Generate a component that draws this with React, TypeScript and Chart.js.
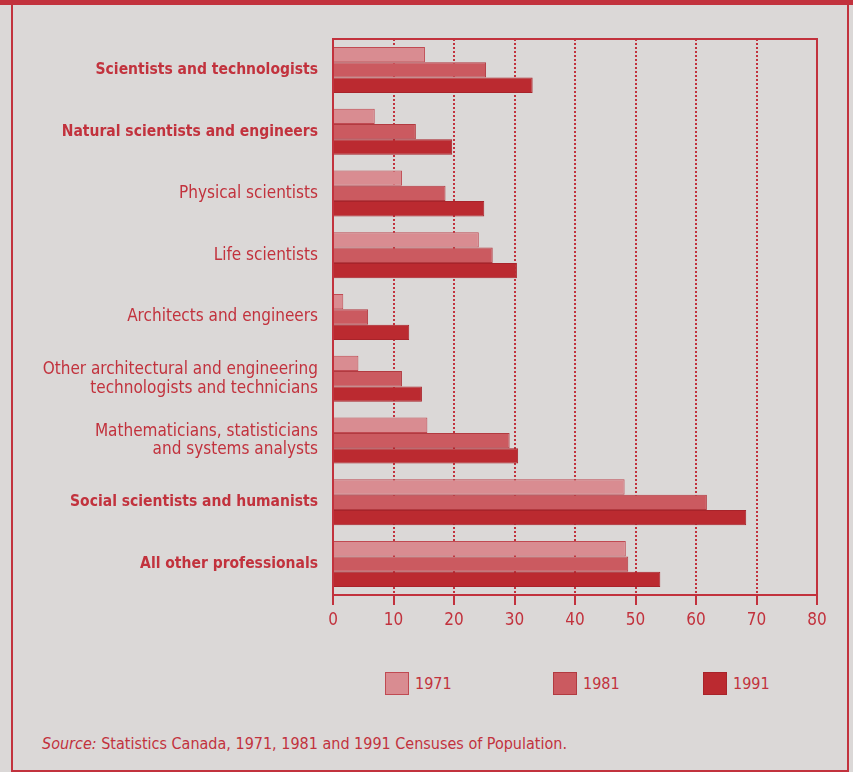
import React, { useEffect, useRef } from "react";
import { Chart, registerables } from "chart.js";

Chart.register(...registerables);

const categories: (string | string[])[] = [
  "Scientists and technologists",
  "Natural scientists and engineers",
  "Physical scientists",
  "Life scientists",
  "Architects and engineers",
  ["Other architectural and engineering", "technologists and technicians"],
  ["Mathematicians, statisticians", "and systems analysts"],
  "Social scientists and humanists",
  "All other professionals",
];

const headingCategories = [
  "Scientists and technologists",
  "Natural scientists and engineers",
  "Social scientists and humanists",
  "All other professionals",
];

const seriesNames = ["1971", "1981", "1991"];
const values1971 = [15.2, 6.9, 11.4, 24.1, 1.7, 4.2, 15.6, 48.2, 48.4];
const values1981 = [25.3, 13.7, 18.6, 26.4, 5.8, 11.4, 29.2, 61.8, 48.8];
const values1991 = [33.0, 19.7, 25.0, 30.4, 12.6, 14.7, 30.6, 68.3, 54.1];

const xTicks = [0, 10, 20, 30, 40, 50, 60, 70, 80];

const sourceLabel = "Source:";
const sourceText = " Statistics Canada, 1971, 1981 and 1991 Censuses of Population.";

const FONT =
  "'Liberation Sans Narrow', 'DejaVu Sans Condensed', 'Roboto Condensed', 'Arial Narrow', sans-serif";
const RED = "#c2323d";
const BG = "#dbd8d7";
const FILLS = ["#d98c91", "#cb5a60", "#bb2a30"];
const EDGES = ["#c04a52", "#b23a40", "#a8232a"];
const LEGEND_LEFT = [385, 553, 703];

const CANVAS_W = 853;
const CANVAS_H = 650;

const framePlugin = {
  id: "frameLines",
  afterDatasetsDraw(chart: any) {
    const { ctx, chartArea } = chart;
    ctx.save();
    ctx.strokeStyle = RED;
    ctx.lineWidth = 2;
    ctx.setLineDash([]);
    ctx.beginPath();
    ctx.moveTo(chartArea.left, chartArea.top);
    ctx.lineTo(chartArea.right, chartArea.top);
    ctx.lineTo(chartArea.right, chartArea.bottom);
    ctx.stroke();
    ctx.restore();
  },
};

function labelText(c: string | string[]) {
  return Array.isArray(c) ? c.join(" ") : c;
}

export default function App() {
  const ref = useRef<HTMLCanvasElement | null>(null);

  useEffect(() => {
    if (!ref.current) return;
    const series = [values1971, values1981, values1991];
    const chart = new Chart(ref.current, {
      type: "bar",
      data: {
        labels: categories,
        datasets: series.map((vals, i) => ({
          label: seriesNames[i],
          data: vals,
          backgroundColor: FILLS[i],
          borderColor: EDGES[i],
          borderWidth: 1,
          categoryPercentage: 0.745,
          barPercentage: 1.0,
        })),
      },
      options: {
        indexAxis: "y",
        animation: false,
        responsive: false,
        maintainAspectRatio: false,
        layout: { padding: { left: 0, right: CANVAS_W - 817, top: 39, bottom: 0 } },
        plugins: {
          legend: { display: false },
          tooltip: { enabled: false },
        },
        scales: {
          x: {
            type: "linear",
            min: 0,
            max: 80,
            afterBuildTicks: (scale: any) => {
              scale.ticks = xTicks.map((v) => ({ value: v }));
            },
            afterFit: (scale: any) => {
              scale.height = CANVAS_H - 595;
            },
            ticks: {
              color: RED,
              font: { family: FONT, size: 17 },
              padding: 5,
              maxRotation: 0,
            },
            grid: {
              color: RED,
              lineWidth: 2,
              drawTicks: true,
              tickLength: 10,
              tickWidth: 2,
              tickColor: RED,
              tickBorderDash: [],
            },
            border: { display: true, color: RED, width: 2, dash: [2, 2] },
          },
          y: {
            type: "category",
            afterFit: (scale: any) => {
              scale.width = 333;
            },
            ticks: {
              color: RED,
              padding: 15,
              font: (ctx: any) => {
                const c = categories[ctx.index];
                const isHead = c !== undefined && headingCategories.includes(labelText(c));
                return isHead
                  ? { family: FONT, size: 15.5, weight: "bold", lineHeight: 1.15 }
                  : { family: FONT, size: 17, weight: "normal", lineHeight: 1.1 };
              },
            },
            grid: { display: false, drawTicks: false },
            border: { display: true, color: RED, width: 2 },
          },
        },
      },
      plugins: [framePlugin],
    } as any);
    return () => chart.destroy();
  }, []);

  return (
    <div
      style={{
        position: "absolute",
        left: 0,
        top: 0,
        width: 853,
        height: 772,
        background: BG,
        overflow: "hidden",
        fontFamily: FONT,
        color: RED,
      }}
    >
      <div style={{ position: "absolute", left: 0, top: 0, width: 853, height: 5, background: RED }} />
      <div
        style={{
          position: "absolute",
          left: 11,
          top: 0,
          width: 847 - 11 - 2,
          height: 770 - 5,
          borderTop: `5px solid ${RED}`,
          borderLeft: `2px solid ${RED}`,
          borderRight: `2px solid ${RED}`,
          borderBottom: `2px solid ${RED}`,
        }}
      />
      <div style={{ position: "absolute", left: 0, top: 0, width: CANVAS_W, height: CANVAS_H }}>
        <canvas ref={ref} width={CANVAS_W} height={CANVAS_H} style={{ width: CANVAS_W, height: CANVAS_H }} />
      </div>
      {seriesNames.map((name, i) => (
        <div
          key={name}
          style={{
            position: "absolute",
            left: LEGEND_LEFT[i],
            top: 672,
            height: 23,
            display: "flex",
            alignItems: "center",
          }}
        >
          <div
            style={{
              width: 22,
              height: 21,
              background: FILLS[i],
              border: `1px solid ${EDGES[i]}`,
              marginRight: 6,
            }}
          />
          <span style={{ fontSize: 16, lineHeight: "23px" }}>{name}</span>
        </div>
      ))}
      <div
        style={{
          position: "absolute",
          left: 42,
          top: 734,
          fontSize: 16,
          lineHeight: "20px",
          whiteSpace: "nowrap",
        }}
      >
        <i>{sourceLabel}</i>
        {sourceText}
      </div>
    </div>
  );
}
